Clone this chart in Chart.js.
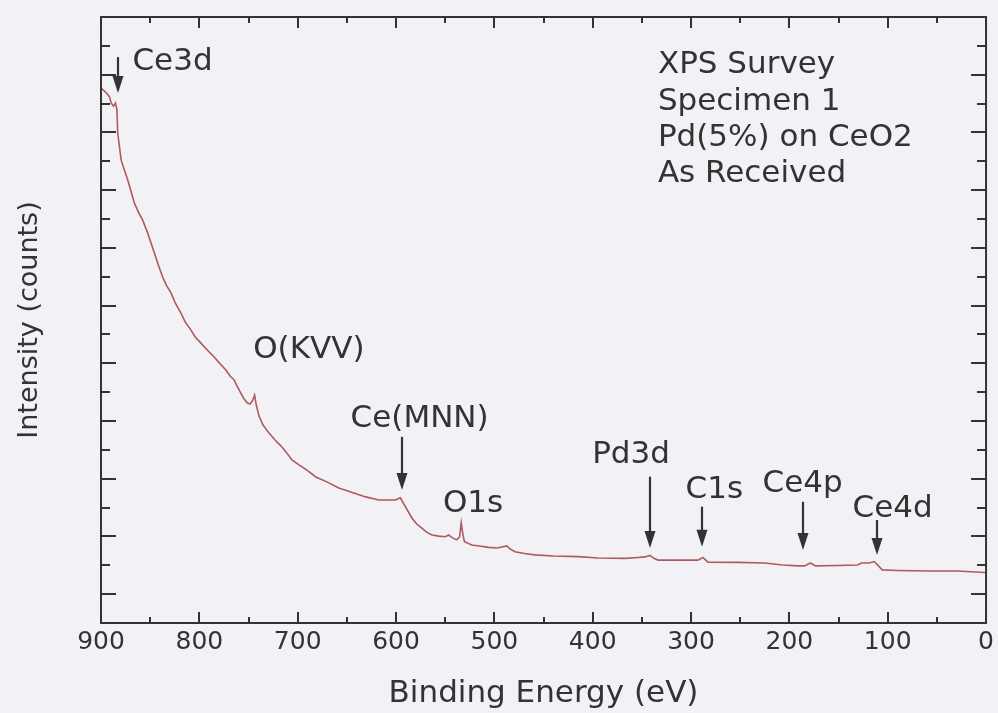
<!DOCTYPE html>
<html>
<head>
<meta charset="utf-8">
<title>XPS Survey - Pd(5%) on CeO2</title>
<script src="https://cdn.jsdelivr.net/npm/chart.js@4.4.1/dist/chart.umd.min.js"></script>
<style>
  html, body { margin: 0; padding: 0; background: #f2f2f6; }
</style>
</head>
<body>
<canvas id="xps" width="998" height="713"></canvas>
<script>
// survey spectrum, binding energy (eV) vs intensity (arb. counts)
var bindingEnergy = [
  900, 895.4, 891.4, 889.7, 887.3, 885.3, 883.8, 883.0, 879.5, 876.2,
  872.8, 866.0, 862.0, 857.6, 852.5, 845.7, 841.7, 837.3, 833.6, 828.8,
  824.5, 818.7, 814.3, 808.5, 804.2, 798.4, 792.0, 784.9, 778.8, 773.0,
  768.7, 764.6, 761.6, 757.8, 754.5, 751.1, 748.4, 746.1, 743.8, 742.3,
  739.3, 735.2, 729.1, 723.0, 716.9, 711.9, 705.8, 698.7, 690.6, 681.5,
  670.3, 658.2, 646.0, 630.8, 617.6, 607.5, 600.6, 595.6, 590.5, 583.8,
  579.0, 573.7, 568.9, 563.5, 556.7, 549.9, 546.6, 542.5, 538.2, 535.4,
  533.7, 531.9, 530.4, 523.0, 515.2, 506.0, 496.9, 487.5, 483.7, 479.0,
  469.5, 458.7, 440.1, 414.8, 394.5, 367.4, 353.9, 346.8, 341.7, 337.7,
  333.6, 313.4, 293.0, 287.9, 282.8, 252.5, 225.1, 206.9, 191.7, 184.6,
  178.5, 173.4, 151.1, 130.8, 126.8, 118.7, 113.6, 109.5, 105.5, 90.3,
  56.8, 29.4, 1.0
];
var intensity = [
  18.54, 18.40, 18.24, 18.02, 17.91, 18.02, 17.78, 16.98, 16.04, 15.70,
  15.35, 14.55, 14.24, 13.96, 13.51, 12.82, 12.41, 11.99, 11.71, 11.44,
  11.09, 10.74, 10.43, 10.15, 9.91, 9.70, 9.46, 9.22, 8.98, 8.77,
  8.56, 8.42, 8.21, 7.97, 7.76, 7.62, 7.59, 7.69, 7.90, 7.59,
  7.17, 6.86, 6.58, 6.34, 6.13, 5.93, 5.65, 5.48, 5.30, 5.06,
  4.89, 4.68, 4.54, 4.37, 4.26, 4.26, 4.26, 4.34, 4.03, 3.64,
  3.43, 3.29, 3.15, 3.05, 3.01, 2.99, 3.05, 2.95, 2.88, 2.98,
  3.47, 3.05, 2.82, 2.70, 2.67, 2.62, 2.60, 2.67, 2.56, 2.47,
  2.41, 2.36, 2.32, 2.30, 2.25, 2.24, 2.27, 2.29, 2.34, 2.24,
  2.18, 2.18, 2.18, 2.27, 2.11, 2.10, 2.08, 2.01, 1.98, 1.98,
  2.08, 1.98, 1.99, 2.01, 2.08, 2.08, 2.13, 1.98, 1.84, 1.82,
  1.80, 1.80, 1.75
];

var xTicks = [900, 800, 700, 600, 500, 400, 300, 200, 100, 0];
var xMinorTicks = [850, 750, 650, 550, 450, 350, 250, 150, 50];
var yTicks = [1, 3, 5, 7, 9, 11, 13, 15, 17, 19, 21];
var yMinorTicks = [2, 4, 6, 8, 10, 12, 14, 16, 18, 20];

// peak labels and their arrows, in data units
var peakNames = ['Ce3d', 'O(KVV)', 'Ce(MNN)', 'O1s', 'Pd3d', 'C1s', 'Ce4p', 'Ce4d'];
var peakLabelE = [868.0, 688.6, 576.0, 521.7, 361.0, 276.3, 186.6, 95.0];
var peakLabelI = [19.16, 9.18, 6.79, 3.86, 5.54, 4.33, 4.55, 3.68];
var arrowE = [883.0, null, 594.0, null, 342.0, 289.0, 186.6, 111.3];
var arrowFrom = [19.61, null, 6.45, null, 5.07, 4.03, 4.20, 3.57];
var arrowTo = [18.37, null, 4.61, null, 2.60, 2.64, 2.53, 2.36];

var infoLines = ['XPS Survey', 'Specimen 1', 'Pd(5%) on CeO2', 'As Received'];
var infoE = 333.7;
var infoI = [19.06, 17.78, 16.53, 15.28];

var ink = '#333333';
var labelFont = '31px "DejaVu Sans"';

var points = bindingEnergy.map(function (e, i) {
  return { x: e, y: intensity[i] };
});

var background = {
  id: 'background',
  beforeDraw: function (chart) {
    var ctx = chart.ctx;
    ctx.save();
    ctx.fillStyle = '#f2f2f6';
    ctx.fillRect(0, 0, chart.width, chart.height);
    ctx.restore();
  }
};

// box around the plot with inward ticks on all four sides
var frame = {
  id: 'frame',
  afterDraw: function (chart) {
    var ctx = chart.ctx;
    var a = chart.chartArea;
    var xs = chart.scales.x;
    var ys = chart.scales.y;
    ctx.save();
    ctx.strokeStyle = ink;
    ctx.lineWidth = 2;
    ctx.beginPath();
    function xTick(v, len) {
      var px = Math.round(xs.getPixelForValue(v));
      ctx.moveTo(px, a.bottom);
      ctx.lineTo(px, a.bottom - len);
      ctx.moveTo(px, a.top);
      ctx.lineTo(px, a.top + len);
    }
    function yTick(v, len) {
      var py = Math.round(ys.getPixelForValue(v));
      ctx.moveTo(a.left, py);
      ctx.lineTo(a.left + len, py);
      ctx.moveTo(a.right, py);
      ctx.lineTo(a.right - len, py);
    }
    xTicks.forEach(function (v) { xTick(v, 11); });
    xMinorTicks.forEach(function (v) { xTick(v, 6); });
    yTicks.forEach(function (v) { yTick(v, 15); });
    yMinorTicks.forEach(function (v) { yTick(v, 9); });
    ctx.stroke();
    ctx.strokeRect(a.left, a.top, a.right - a.left, a.bottom - a.top);
    ctx.restore();
  }
};

function drawArrow(ctx, x, y0, y1) {
  ctx.beginPath();
  ctx.moveTo(x, y0);
  ctx.lineTo(x, y1 - 15);
  ctx.stroke();
  ctx.beginPath();
  ctx.moveTo(x - 5.5, y1 - 17);
  ctx.lineTo(x + 5.5, y1 - 17);
  ctx.lineTo(x, y1);
  ctx.closePath();
  ctx.fill();
}

var peaks = {
  id: 'peaks',
  afterDatasetsDraw: function (chart) {
    var ctx = chart.ctx;
    var xs = chart.scales.x;
    var ys = chart.scales.y;
    ctx.save();
    ctx.fillStyle = ink;
    ctx.strokeStyle = ink;
    ctx.lineWidth = 2.2;
    ctx.font = labelFont;
    ctx.textBaseline = 'alphabetic';
    peakNames.forEach(function (name, i) {
      ctx.textAlign = i === 0 ? 'left' : 'center';
      ctx.fillText(name, xs.getPixelForValue(peakLabelE[i]), ys.getPixelForValue(peakLabelI[i]));
      if (arrowE[i] !== null) {
        var ax = Math.round(xs.getPixelForValue(arrowE[i]));
        drawArrow(ctx, ax, ys.getPixelForValue(arrowFrom[i]), ys.getPixelForValue(arrowTo[i]));
      }
    });
    ctx.textAlign = 'left';
    infoLines.forEach(function (line, i) {
      ctx.fillText(line, xs.getPixelForValue(infoE), ys.getPixelForValue(infoI[i]));
    });
    ctx.restore();
  }
};

new Chart(document.getElementById('xps'), {
  type: 'line',
  data: {
    datasets: [{
      label: 'Survey',
      data: points,
      borderColor: '#b0595e',
      borderWidth: 1.6,
      pointRadius: 0,
      tension: 0,
      fill: false
    }]
  },
  options: {
    responsive: false,
    animation: false,
    devicePixelRatio: 1,
    layout: { padding: { top: 17, right: 9, left: 0, bottom: 0 } },
    plugins: {
      legend: { display: false },
      tooltip: { enabled: false }
    },
    scales: {
      x: {
        type: 'linear',
        reverse: true,
        min: 0,
        max: 900,
        afterBuildTicks: function (scale) {
          scale.ticks = xTicks.map(function (v) { return { value: v }; });
        },
        afterFit: function (scale) { scale.height = 90; },
        grid: { display: false, drawTicks: false },
        border: { display: false },
        ticks: {
          color: ink,
          padding: 4,
          maxRotation: 0,
          font: { family: 'DejaVu Sans', size: 25 }
        },
        title: {
          display: true,
          text: 'Binding Energy (eV)',
          color: ink,
          padding: { top: 0, bottom: 0 },
          font: { family: 'DejaVu Sans', size: 31 }
        }
      },
      y: {
        type: 'linear',
        min: 0,
        max: 21,
        afterFit: function (scale) { scale.width = 101; },
        grid: { display: false, drawTicks: false },
        border: { display: false },
        ticks: { display: false },
        title: {
          display: true,
          text: 'Intensity (counts)',
          color: ink,
          padding: { top: 14, bottom: 0 },
          font: { family: 'DejaVu Sans', size: 27 }
        }
      }
    }
  },
  plugins: [background, frame, peaks]
});
</script>
</body>
</html>
